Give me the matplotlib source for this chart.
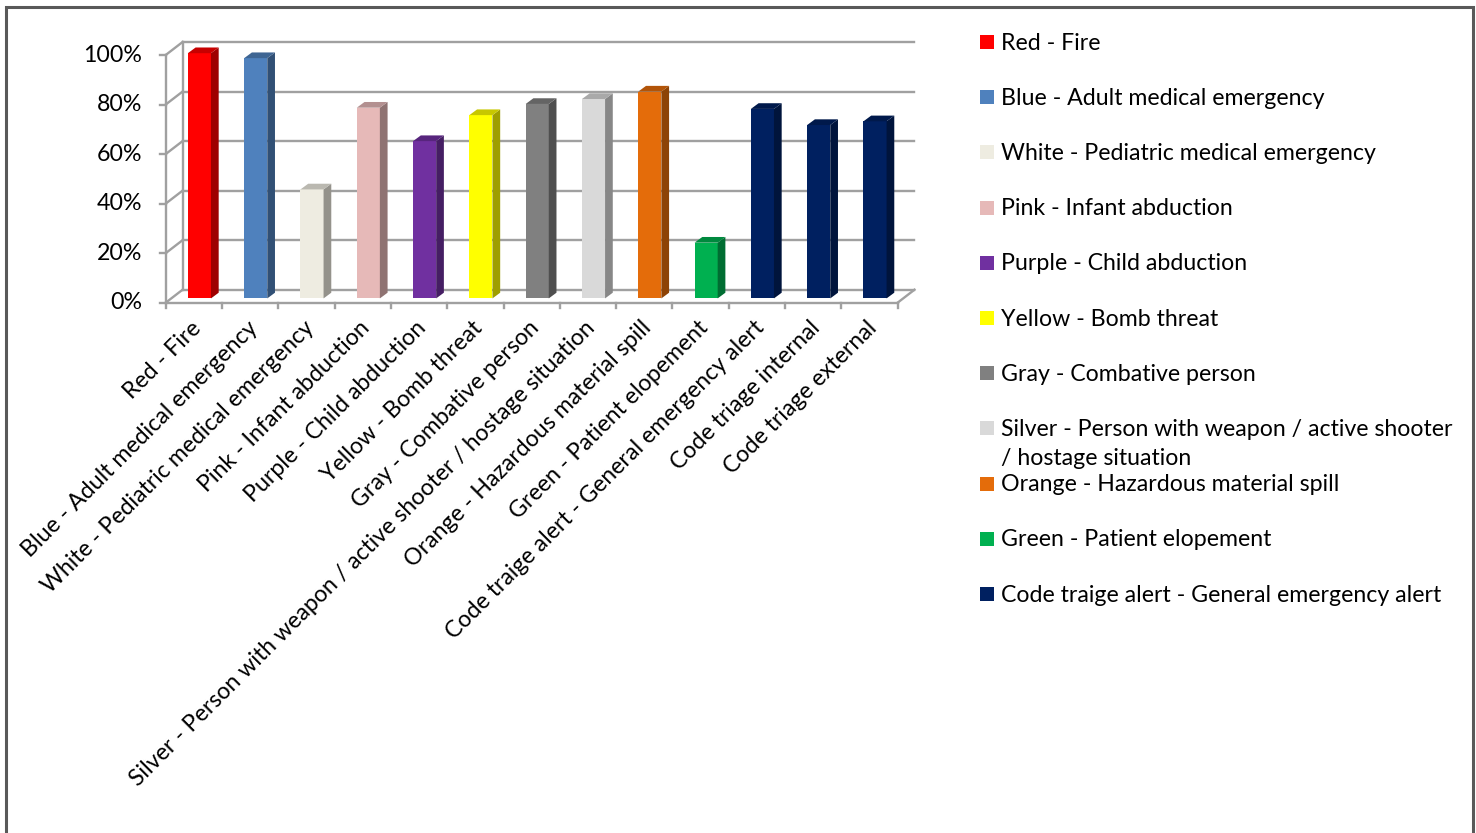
import matplotlib
matplotlib.use("Agg")

import numpy as np
import matplotlib.pyplot as plt
from matplotlib.patches import Rectangle, Polygon

# ==========================================================
# DATA
# ==========================================================

CATEGORIES = [
    "Red - Fire",
    "Blue - Adult medical emergency",
    "White - Pediatric medical emergency",
    "Pink - Infant abduction",
    "Purple - Child abduction",
    "Yellow - Bomb threat",
    "Gray - Combative person",
    "Silver - Person with weapon / active shooter / hostage situation",
    "Orange - Hazardous material spill",
    "Green - Patient elopement",
    "Code traige alert - General emergency alert",
    "Code triage internal",
    "Code triage external",
]

VALUES = [99, 97, 44, 77, 63.5, 74, 78.5, 80.5, 83.5, 22.5, 76.5, 70, 71.5]

COLORS = [
    "#FF0000", "#4F81BD", "#EEECE1", "#E6B9B8", "#7030A0", "#FFFF00",
    "#808080", "#D9D9D9", "#E46C0A", "#00B050", "#002060", "#002060",
    "#002060",
]

# legend lists only the first eleven codes; long ones wrap onto two lines
LEGEND_LABELS = [
    ["Red - Fire"],
    ["Blue - Adult medical emergency"],
    ["White - Pediatric medical emergency"],
    ["Pink - Infant abduction"],
    ["Purple - Child abduction"],
    ["Yellow - Bomb threat"],
    ["Gray - Combative person"],
    ["Silver - Person with weapon / active shooter", "/ hostage situation"],
    ["Orange - Hazardous material spill"],
    ["Green - Patient elopement"],
    ["Code traige alert - General emergency alert"],
]

Y_TICKS = [0, 20, 40, 60, 80, 100]

# ==========================================================
# STYLE
# ==========================================================

W, H = 1476, 833
FONT = ["Lato", "DejaVu Sans"]
FS = 16.7
GRID = "#A0A0A0"

# depth of the 3-D box (data units) and bar geometry
DX, DY = 0.30, 5.25
BAR_W = 0.41
BAR_DEPTH = 0.33
BAR_DX, BAR_DY = 0.137, 2.3

plt.rcParams["font.family"] = FONT


def shade(color, k):
    rgb = np.array(matplotlib.colors.to_rgb(color))
    return tuple(rgb * k)


def fx(px):
    return px / W


def fy(py):
    return 1 - py / H


# ==========================================================
# 3-D FRAME
# ==========================================================

def draw_frame(ax):

    n = len(CATEGORIES)
    x0, x1 = -0.5, n - 0.5
    kw = dict(color=GRID, lw=1.7, clip_on=False, zorder=1)

    for v in Y_TICKS:
        ax.plot([x0 + DX, x1 + DX], [v + DY, v + DY], **kw)
        ax.plot([x0, x0 + DX], [v, v + DY], **kw)
        ax.plot([x0 - 0.1, x0], [v, v], **kw)
        ax.text(x0 - 0.42, v, f"{v}%", ha="right", va="center",
                fontsize=FS, color="black")

    ax.plot([x0 + DX, x0 + DX], [DY, 100 + DY], **kw)
    ax.plot([x0, x0], [0, 100], **kw)
    ax.plot([x0, x1], [0, 0], **kw)
    ax.plot([x1, x1 + DX], [0, DY], **kw)

    for b in np.arange(x0, x1 + 0.01, 1.0):
        ax.plot([b, b], [0, -2.2], **kw)


# ==========================================================
# BARS
# ==========================================================

def draw_bars(ax):

    for i, (v, c) in enumerate(zip(VALUES, COLORS)):

        xl = i - BAR_W / 2 + DX * BAR_DEPTH
        xr = xl + BAR_W
        y0 = DY * BAR_DEPTH
        top = y0 + v

        ax.add_patch(Rectangle((xl, y0), BAR_W, v, facecolor=c,
                               edgecolor="none", zorder=3, clip_on=False))

        side = [(xr, y0), (xr + BAR_DX, y0 + BAR_DY),
                (xr + BAR_DX, top + BAR_DY), (xr, top)]
        ax.add_patch(Polygon(side, closed=True, facecolor=shade(c, 0.62),
                             edgecolor="none", zorder=3, clip_on=False))

        cap = [(xl, top), (xr, top), (xr + BAR_DX, top + BAR_DY),
               (xl + BAR_DX, top + BAR_DY)]
        ax.add_patch(Polygon(cap, closed=True, facecolor=shade(c, 0.78),
                             edgecolor="none", zorder=3, clip_on=False))

        ax.annotate(CATEGORIES[i], xy=(i, 0), xytext=(4, -22),
                    textcoords="offset pixels", rotation=45,
                    rotation_mode="anchor", ha="right", va="center",
                    fontsize=FS, color="black", annotation_clip=False)


# ==========================================================
# LEGEND
# ==========================================================

def draw_legend(fig):

    for k, (lines, c) in enumerate(zip(LEGEND_LABELS, COLORS)):

        yc = 43 + k * 55.2

        fig.patches.append(Rectangle((fx(980), fy(yc + 6)), 14 / W, 14 / H,
                                     transform=fig.transFigure,
                                     facecolor=c, edgecolor="none"))

        for j, line in enumerate(lines):
            fig.text(fx(1001), fy(yc + j * 29), line, ha="left",
                     va="center", fontsize=FS, color="black")


# ==========================================================
# MAIN
# ==========================================================

def main():

    fig = plt.figure(figsize=(W / 100, H / 100), dpi=100)
    fig.patch.set_facecolor("white")

    ax = fig.add_axes([fx(165.7), fy(302.7), fx(897.6) - fx(165.7),
                       fy(55) - fy(302.7)])
    ax.set_xlim(-0.5, len(CATEGORIES) - 0.5)
    ax.set_ylim(0, 100)
    ax.axis("off")

    draw_frame(ax)
    draw_bars(ax)
    draw_legend(fig)

    # outer chart border
    fig.patches.append(Rectangle((fx(6), fy(860)), fx(1473) - fx(6),
                                 fy(7) - fy(860),
                                 transform=fig.transFigure, fill=False,
                                 edgecolor="#595959", lw=2.2))

    fig.savefig("out.png", dpi=100)
    plt.close(fig)


if __name__ == "__main__":

    main()
